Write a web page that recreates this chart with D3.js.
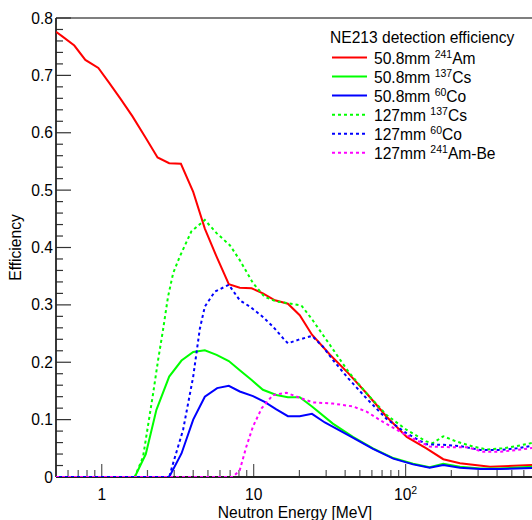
<!DOCTYPE html>
<html><head><meta charset="utf-8">
<script src="https://cdn.jsdelivr.net/npm/d3@7"></script>
<style>
html,body{margin:0;padding:0;background:#fff;}
svg{display:block;font-family:"Liberation Sans",Arial,Helvetica,sans-serif;}
</style></head>
<body><svg id="c" width="532" height="520"></svg>
<script>
// ---------- data ----------
const xTickLabels = ["1", "10", "10^2"];
const yTickLabels = ["0", "0.1", "0.2", "0.3", "0.4", "0.5", "0.6", "0.7", "0.8"];

const eAm508 = [0.5,0.55,0.66,0.78,0.95,1.12,1.33,1.59,1.95,2.33,2.78,3.32,4.0,4.77,5.7,6.86,8.1,9.7,11.5,13.8,16.8,20.1,24.2,31.8,41.9,55.3,75,101.7,137,177,228,360,700];
const vAm508 = [0.776,0.768,0.752,0.727,0.713,0.687,0.659,0.629,0.591,0.557,0.547,0.546,0.497,0.433,0.384,0.336,0.330,0.329,0.320,0.308,0.302,0.282,0.248,0.213,0.181,0.146,0.105,0.070,0.050,0.031,0.024,0.018,0.021];

const eCs508 = [0.5,1.65,1.95,2.29,2.78,3.35,4.0,4.77,5.7,6.86,8.1,9.7,11.5,14.1,16.8,20.1,24.2,33.2,45,61,83,112,144,177,228,310,418,700];
const vCs508 = [0,0,0.040,0.117,0.175,0.203,0.218,0.221,0.213,0.202,0.186,0.169,0.152,0.143,0.139,0.139,0.123,0.093,0.070,0.050,0.033,0.023,0.017,0.023,0.018,0.015,0.015,0.018];

const eCo508 = [0.5,2.78,3.35,4.0,4.77,5.75,6.86,8.1,9.9,11.8,14.1,16.8,20.1,24.2,29.4,41.9,61,83,112,144,177,228,310,418,700];
const vCo508 = [0,0,0.041,0.100,0.140,0.155,0.159,0.149,0.141,0.131,0.118,0.106,0.106,0.110,0.095,0.073,0.049,0.032,0.022,0.016,0.021,0.016,0.014,0.014,0.016];

const eCs127 = [0.5,1.65,1.87,2.18,2.35,2.53,2.73,2.95,3.26,3.89,4.77,5.7,6.97,8.1,9.9,11.8,14.1,16.8,20.6,24.2,31.8,41.9,55.3,75,101.7,137,151,177,215,278,342,438,540,700];
const vCs127 = [0,0,0.035,0.146,0.204,0.256,0.314,0.355,0.384,0.428,0.448,0.425,0.404,0.378,0.338,0.314,0.306,0.303,0.299,0.275,0.230,0.184,0.146,0.108,0.082,0.062,0.059,0.071,0.062,0.053,0.048,0.050,0.054,0.060];

const eCo127 = [0.5,2.78,2.95,3.43,4.0,4.42,4.77,5.55,6.86,8.1,9.44,11.5,13.4,15.6,16.8,19.6,24.2,28.6,33.2,41.9,55.3,75,101.7,137,177,228,310,418,540,700];
const vCo127 = [0,0,0.024,0.082,0.175,0.258,0.297,0.323,0.335,0.308,0.297,0.279,0.262,0.242,0.233,0.239,0.246,0.227,0.204,0.172,0.137,0.101,0.076,0.057,0.056,0.054,0.047,0.047,0.050,0.055];

const eAmBe127 = [0.5,7.3,8.1,8.95,9.9,11.3,13.4,16.4,20.1,24.6,33.2,45,55.3,71,92,112,144,195,253,324,418,540,700];
const vAmBe127 = [0,0,0.012,0.053,0.088,0.120,0.143,0.147,0.138,0.130,0.128,0.123,0.114,0.096,0.079,0.067,0.053,0.052,0.052,0.044,0.044,0.047,0.051];

const seriesNames = [
  ["50.8mm ", "241", "Am"],
  ["50.8mm ", "137", "Cs"],
  ["50.8mm ", "60", "Co"],
  ["127mm ", "137", "Cs"],
  ["127mm ", "60", "Co"],
  ["127mm ", "241", "Am-Be"]
];
const seriesE = [eAm508, eCs508, eCo508, eCs127, eCo127, eAmBe127];
const seriesV = [vAm508, vCs508, vCo508, vCs127, vCo127, vAmBe127];
const seriesColor = ["#ff0000", "#00ff00", "#0000ff", "#00ff00", "#0000ff", "#ff00ff"];
const seriesDash = [null, null, null, "3,3", "3,3", "3,3"];
const legendTitle = "NE213 detection efficiency";

// ---------- layout ----------
const L = 56, R = 534, T = 18, B = 477;
const FS = 15.6;
const svg = d3.select("#c");
const x = d3.scaleLog().domain([0.5, 700]).range([L, R]);
const y = d3.scaleLinear().domain([0, 0.8]).range([B, T]);

svg.append("defs").append("clipPath").attr("id", "clip")
  .append("rect").attr("x", L).attr("y", T).attr("width", R - L).attr("height", B - T);

// frame
svg.append("line").attr("x1", L).attr("x2", R).attr("y1", T).attr("y2", T)
  .attr("stroke", "#000").attr("stroke-width", 1.2);

// y ticks
const yMinor = d3.range(0, 0.8001, 0.02);
svg.append("g").selectAll("line").data(yMinor).join("line")
  .attr("x1", L).attr("x2", d => (Math.abs(d * 10 - Math.round(d * 10)) < 1e-6) ? L + 15 : L + 7)
  .attr("y1", d => y(d)).attr("y2", d => y(d))
  .attr("stroke", "#333").attr("stroke-width", 1.2);
svg.append("g").selectAll("text").data(yTickLabels).join("text")
  .attr("x", 53).attr("y", d => y(+d) + 5.5)
  .attr("text-anchor", "end").attr("font-size", FS).attr("fill", "#000")
  .text(d => d);

// x ticks
const xAll = x.ticks().filter(v => v > 0.5 && v < 700);
svg.append("g").selectAll("line").data(xAll).join("line")
  .attr("x1", d => x(d)).attr("x2", d => x(d))
  .attr("y1", B).attr("y2", d => (Math.abs(Math.log10(d) - Math.round(Math.log10(d))) < 1e-6) ? B - 13 : B - 7)
  .attr("stroke", "#555").attr("stroke-width", 1.2);
const xMajor = [1, 10, 100];
const xl = svg.append("g").selectAll("text").data(xMajor).join("text")
  .attr("x", d => x(d)).attr("y", 500)
  .attr("text-anchor", "middle").attr("font-size", FS).attr("fill", "#000");
xl.each(function(d, i) {
  const lab = xTickLabels[i];
  const t = d3.select(this);
  if (lab.includes("^")) {
    const [b, e] = lab.split("^");
    t.append("tspan").text(b);
    t.append("tspan").attr("dy", -6).attr("font-size", 10.5).text(e);
  } else t.text(lab);
});

// axis lines
svg.append("line").attr("x1", L).attr("x2", L).attr("y1", T).attr("y2", B)
  .attr("stroke", "#222").attr("stroke-width", 1.8);
svg.append("line").attr("x1", L).attr("x2", R).attr("y1", B).attr("y2", B)
  .attr("stroke", "#222").attr("stroke-width", 1.8);

// titles
svg.append("text").attr("x", (L + R) / 2).attr("y", 518).attr("text-anchor", "middle")
  .attr("font-size", FS).text("Neutron Energy [MeV]");
svg.append("text").attr("transform", `translate(20.5,${(T + B) / 2}) rotate(-90)`)
  .attr("text-anchor", "middle").attr("font-size", FS).text("Efficiency");

// curves
const line = d3.line().x(d => x(d[0])).y(d => y(d[1]));
const g = svg.append("g").attr("clip-path", "url(#clip)");
seriesE.forEach((es, i) => {
  const pts = es.map((e, k) => [e, seriesV[i][k]]);
  g.append("path").datum(pts).attr("d", line)
    .attr("fill", "none").attr("stroke", seriesColor[i]).attr("stroke-width", 2)
    .attr("stroke-dasharray", seriesDash[i]);
});

// legend
svg.append("text").attr("x", 330).attr("y", 42.7).attr("font-size", FS).text(legendTitle);
seriesNames.forEach((n, i) => {
  const by = 64 + i * 19.06;
  svg.append("line").attr("x1", 332).attr("x2", 367).attr("y1", by - 6.5).attr("y2", by - 6.5)
    .attr("stroke", seriesColor[i]).attr("stroke-width", 2).attr("stroke-dasharray", seriesDash[i]);
  const t = svg.append("text").attr("x", 374).attr("y", by).attr("font-size", FS);
  t.append("tspan").text(n[0]);
  t.append("tspan").attr("dy", -6).attr("font-size", 10.5).text(n[1]);
  t.append("tspan").attr("dy", 6).text(n[2]);
});
</script></body></html>
